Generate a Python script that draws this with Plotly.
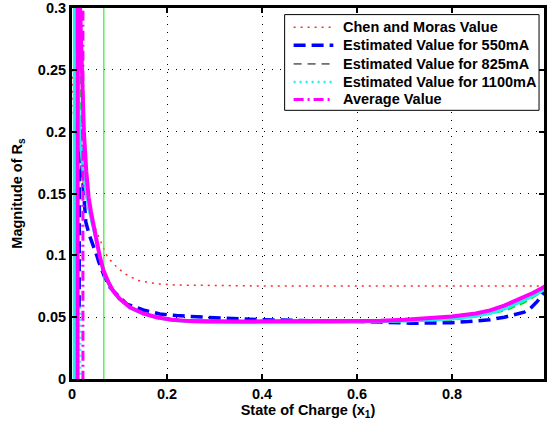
import plotly.graph_objects as go

# State of charge samples and series values for Rs
soc_chen = [0.0, 0.003, 0.01, 0.02, 0.03, 0.04, 0.05, 0.059, 0.066, 0.073, 0.085, 0.1,
            0.114, 0.139, 0.16, 0.178, 0.22, 0.29, 0.4, 0.6, 0.8, 1.0]
rs_chen = [0.25, 0.215, 0.19, 0.165, 0.148, 0.133, 0.121, 0.112, 0.106, 0.1, 0.094, 0.0885,
           0.0845, 0.0797, 0.0782, 0.077, 0.076, 0.0755, 0.0752, 0.0752, 0.0752, 0.0752]

soc_550 = [0.015, 0.016, 0.023, 0.029, 0.036, 0.045, 0.053, 0.056, 0.068, 0.08, 0.1, 0.115,
           0.15, 0.185, 0.22, 0.262, 0.3, 0.4, 0.5, 0.6, 0.65, 0.713, 0.76, 0.8, 0.85, 0.88,
           0.91, 0.93, 0.952, 0.965, 0.98, 0.994, 1.0]
rs_550 = [0.058, 0.21, 0.159, 0.127, 0.117, 0.108, 0.099, 0.095, 0.083, 0.074, 0.066, 0.0606,
          0.0558, 0.0526, 0.0513, 0.050, 0.0495, 0.048, 0.0473, 0.0467, 0.046, 0.0451, 0.0452,
          0.0455, 0.047, 0.048, 0.050, 0.052, 0.054, 0.057, 0.063, 0.070, 0.073]

soc_825 = [0.0145, 0.018, 0.025, 0.035, 0.045, 0.058, 0.066, 0.077, 0.087, 0.1, 0.122, 0.15,
           0.178, 0.21, 0.25, 0.3, 0.4, 0.5, 0.6, 0.7, 0.8, 0.85, 0.875, 0.91, 0.952, 0.98,
           0.994, 1.0]
rs_825 = [0.35, 0.19, 0.16, 0.138, 0.122, 0.099, 0.087, 0.077, 0.0705, 0.0645, 0.0578, 0.0528,
          0.0503, 0.0484, 0.0472, 0.0466, 0.0465, 0.0463, 0.0464, 0.0468, 0.048, 0.0505, 0.053,
          0.0553, 0.062, 0.0686, 0.073, 0.075]

soc_1100 = [0.0045, 0.0055, 0.009, 0.016, 0.024, 0.032, 0.04, 0.05, 0.058, 0.066, 0.077,
            0.087, 0.1, 0.122, 0.15, 0.178, 0.21, 0.25, 0.3, 0.4, 0.5, 0.6, 0.7, 0.8, 0.85,
            0.88, 0.91, 0.952, 0.97, 0.985, 1.0]
rs_1100 = [-0.05, 0.6, 0.3, 0.2, 0.165, 0.145, 0.13, 0.114, 0.099, 0.087, 0.077, 0.0705,
           0.0645, 0.0575, 0.0525, 0.0495, 0.0475, 0.0462, 0.0455, 0.0453, 0.0455, 0.0458,
           0.0468, 0.0486, 0.0508, 0.053, 0.0565, 0.0635, 0.067, 0.070, 0.074]
pole_1100_soc = [0.017, 0.017]
pole_1100_rs = [-0.05, 0.06]

soc_avg = [0.0115, 0.0125, 0.017, 0.021, 0.025, 0.030, 0.035, 0.040, 0.045, 0.050, 0.058,
           0.066, 0.077, 0.087, 0.100, 0.122, 0.150, 0.178, 0.210, 0.248, 0.290, 0.35, 0.40,
           0.45, 0.50, 0.55, 0.60, 0.65, 0.70, 0.75, 0.80, 0.85, 0.88, 0.91, 0.93, 0.952,
           0.97, 0.985, 1.0]
rs_avg = [-0.05, 0.60, 0.30, 0.24, 0.20, 0.168, 0.147, 0.135, 0.125, 0.116, 0.100, 0.088,
          0.078, 0.071, 0.065, 0.058, 0.053, 0.050, 0.048, 0.0468, 0.0465, 0.0465, 0.0466,
          0.0466, 0.0467, 0.0467, 0.0468, 0.0472, 0.048, 0.049, 0.0505, 0.053, 0.0555,
          0.0593, 0.0625, 0.0665, 0.0695, 0.0725, 0.076]
pole_avg_soc = [0.023, 0.023]
pole_avg_rs = [-0.05, 0.35]

# Reference state of charge marker
marker_soc = [0.067, 0.067]
marker_rs = [-0.05, 0.35]

legend_labels = ["Chen and Moras Value", "Estimated Value for 550mA",
                 "Estimated Value for 825mA", "Estimated Value for 1100mA", "Average Value"]

FONT = "Liberation Sans"
FS = 14.5

# line styles shared by curves and legend keys
sty_chen = dict(color="#ff2a2a", width=1.5, dash="2px,5px")
sty_550 = dict(color="#0000ff", width=3.5, dash="12px,6px")
sty_825_curve = dict(color="#00e000", width=2.5, dash="8px,5px")
sty_825_key = dict(color="black", width=1, dash="8px,6px")
sty_1100_curve = dict(color="#22eeee", width=3)
sty_1100_key = dict(color="#22eeee", width=2.5, dash="2px,4px")
sty_avg_curve = dict(color="#ff00ff", width=4)
sty_avg_key = dict(color="#ff00ff", width=3, dash="10px,4px,2px,4px")

fig = go.Figure()

fig.add_trace(go.Scatter(x=soc_chen, y=rs_chen, mode="lines", name=legend_labels[0],
                         line=sty_chen))
fig.add_trace(go.Scatter(x=soc_550, y=rs_550, mode="lines", name=legend_labels[1],
                         line=sty_550))
fig.add_trace(go.Scatter(x=soc_825, y=rs_825, mode="lines", name=legend_labels[2],
                         line=sty_825_curve))
fig.add_trace(go.Scatter(x=marker_soc, y=marker_rs, mode="lines", name="marker",
                         line=dict(color="#33ee33", width=1.2)))
fig.add_trace(go.Scatter(x=soc_1100, y=rs_1100, mode="lines", name=legend_labels[3],
                         line=sty_1100_curve))
fig.add_trace(go.Scatter(x=pole_1100_soc, y=pole_1100_rs, mode="lines",
                         name=legend_labels[3], line=sty_1100_key))
fig.add_trace(go.Scatter(x=pole_avg_soc, y=pole_avg_rs, mode="lines", name=legend_labels[4],
                         line=sty_avg_key))
fig.add_trace(go.Scatter(x=soc_avg, y=rs_avg, mode="lines", name=legend_labels[4],
                         line=sty_avg_curve))

bold = dict(family=FONT, size=FS, color="black", weight="bold")

axis_common = dict(
    showline=True, linecolor="black", linewidth=3, mirror="allticks",
    ticks="inside", ticklen=5, tickwidth=2, tickcolor="black",
    showgrid=True, gridcolor="black", gridwidth=1, griddash="1px,7px",
    zeroline=False,
    tickfont=bold, ticklabeloverflow="allow",
)

fig.update_xaxes(range=[0, 0.9937], tickvals=[0, 0.2, 0.4, 0.6, 0.8],
                 title=dict(text="State of Charge (x<sub>1</sub>)", standoff=2, font=bold),
                 **axis_common)
fig.update_yaxes(range=[0, 0.3], tickvals=[0, 0.05, 0.1, 0.15, 0.2, 0.25, 0.3],
                 title=dict(text="Magnitude of R<sub>s</sub>", standoff=12, font=bold),
                 **axis_common)

# Boxed legend in the upper right of the axes (paper units of the plot area)
box_x0, box_x1, box_y0, box_y1 = 0.4505, 0.9895, 0.7242, 0.9822
key_x0, key_x1, text_x = 0.4695, 0.5537, 0.5705
row_y = [0.9484, 0.8997, 0.8492, 0.8005, 0.7535]
key_styles = [sty_chen, sty_550, sty_825_key, sty_1100_key, sty_avg_key]

shapes = [dict(type="rect", xref="paper", yref="paper", x0=box_x0, x1=box_x1,
               y0=box_y0, y1=box_y1, fillcolor="white",
               line=dict(color="black", width=1), layer="above")]
annotations = []
for label, ry, sty in zip(legend_labels, row_y, key_styles):
    shapes.append(dict(type="line", xref="paper", yref="paper", x0=key_x0, x1=key_x1,
                       y0=ry, y1=ry, line=sty, layer="above"))
    annotations.append(dict(text=label, xref="paper", yref="paper", x=text_x, y=ry,
                            xanchor="left", yanchor="middle", showarrow=False,
                            font=bold))

fig.update_layout(
    width=547, height=427,
    margin=dict(l=72, r=0, t=3.3, b=47.7),
    paper_bgcolor="white", plot_bgcolor="white",
    font=dict(family=FONT, size=FS, color="black"),
    showlegend=False,
    shapes=shapes,
    annotations=annotations,
)

fig.write_html("out.html")
